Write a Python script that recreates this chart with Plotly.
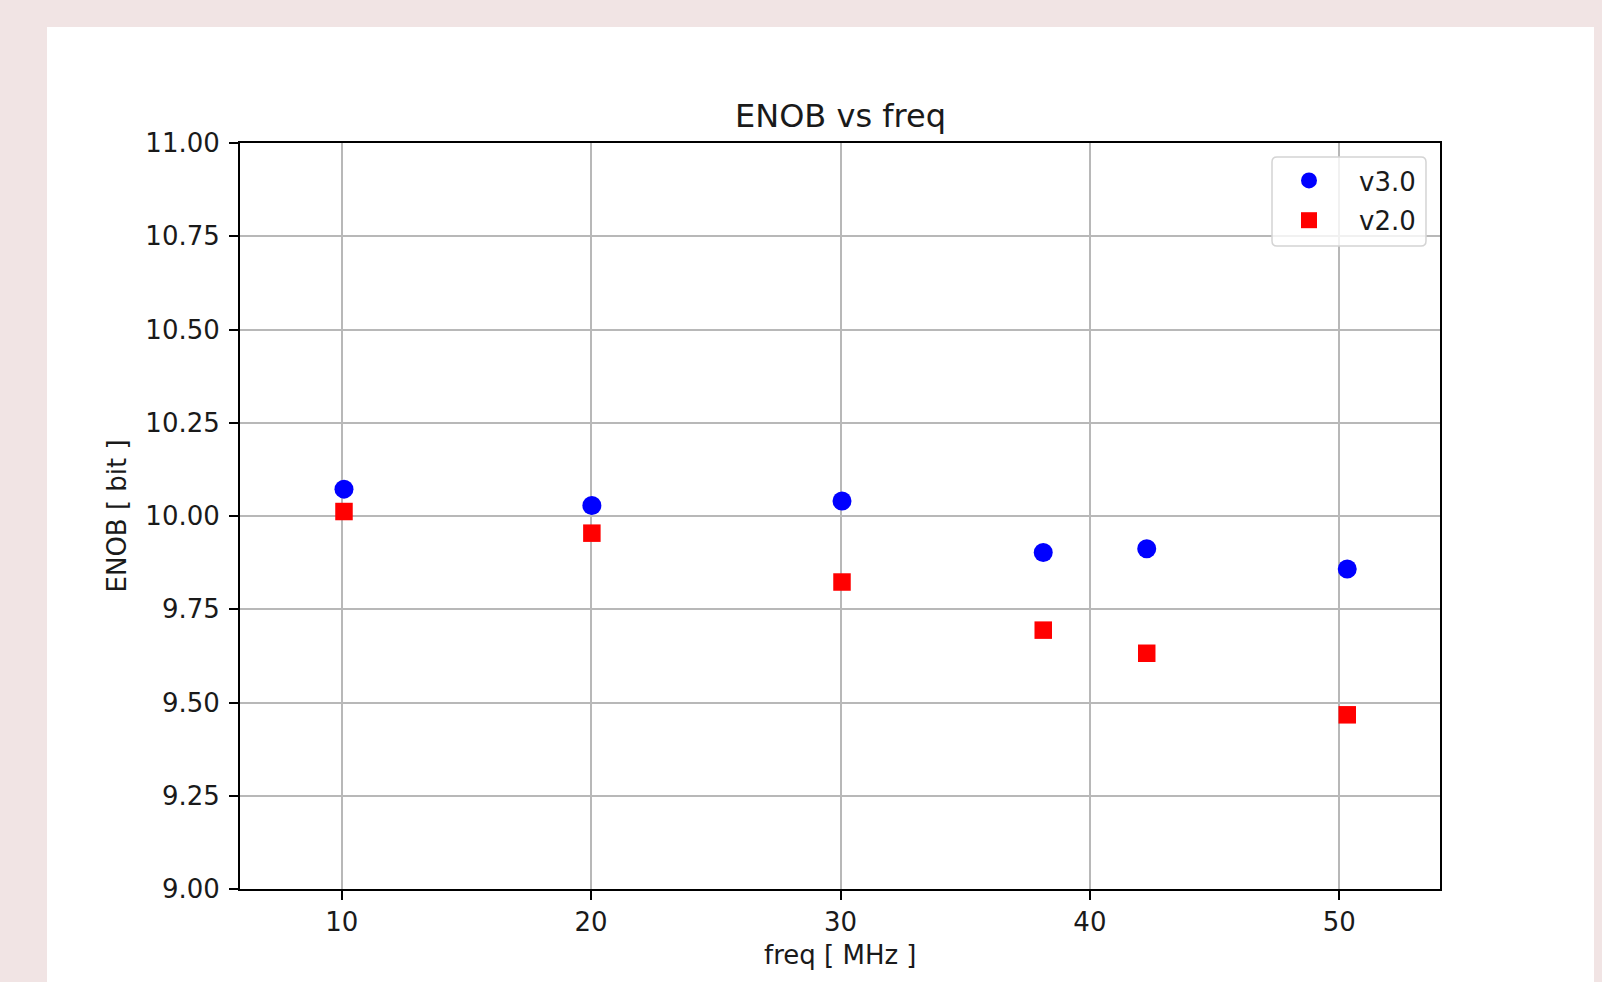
import plotly.graph_objects as go

freq = [10.09, 20.03, 30.06, 38.13, 42.28, 50.32]
enob_v3 = [10.072, 10.028, 10.040, 9.902, 9.912, 9.858]
enob_v2 = [10.012, 9.954, 9.823, 9.694, 9.632, 9.467]
series_names = ["v3.0", "v2.0"]
x_ticks = [10, 20, 30, 40, 50]
y_ticks = [9.00, 9.25, 9.50, 9.75, 10.00, 10.25, 10.50, 10.75, 11.00]

FONT = "DejaVu Sans"
TXT = "#1a1a1a"
W, H = 1602, 982
L, R, T, B = 240, 162, 143, 93
PW, PH = W - L - R, H - T - B

def px_x(px):
    return (px - L) / PW

def px_y(py):
    return (H - B - py) / PH

fig = go.Figure()
fig.add_trace(go.Scatter(x=freq, y=enob_v3, mode="markers", name=series_names[0], legendgroup="g1",
                         marker=dict(symbol="circle", size=19, color="#0000ff", line=dict(width=0))))
fig.add_trace(go.Scatter(x=freq, y=enob_v2, mode="markers", name=series_names[1], legendgroup="g2",
                         marker=dict(symbol="square", size=17.5, color="#ff0000", line=dict(width=0))))

axis_common = dict(
    showgrid=True, gridcolor="#b8b8b8", gridwidth=1.8,
    showline=True, linecolor="black", linewidth=2, mirror=True,
    ticks="outside", ticklen=9, tickwidth=2, tickcolor="black",
    tickfont=dict(family=FONT, size=26, color=TXT),
    zeroline=False,
)

fig.update_xaxes(range=[5.92, 54.04], tickmode="array", tickvals=x_ticks,
                 ticktext=[str(v) for v in x_ticks], **axis_common)
fig.update_yaxes(range=[9.0, 11.0], tickmode="array", tickvals=y_ticks,
                 ticktext=[f"{v:.2f}" for v in y_ticks], ticklabelstandoff=4, **axis_common)

# white panel and legend box
r = 5
lx0, lx1, ly0, ly1 = 1272, 1426, 157, 246
def P(xp, yp):
    return f"{px_x(xp):.5f},{px_y(yp):.5f}"
legend_path = (f"M {P(lx0 + r, ly0)} L {P(lx1 - r, ly0)} Q {P(lx1, ly0)} {P(lx1, ly0 + r)} "
               f"L {P(lx1, ly1 - r)} Q {P(lx1, ly1)} {P(lx1 - r, ly1)} "
               f"L {P(lx0 + r, ly1)} Q {P(lx0, ly1)} {P(lx0, ly1 - r)} "
               f"L {P(lx0, ly0 + r)} Q {P(lx0, ly0)} {P(lx0 + r, ly0)} Z")

fig.update_layout(
    width=W, height=H,
    margin=dict(l=L, r=R, t=T, b=B, autoexpand=False),
    paper_bgcolor="#f1e4e4", plot_bgcolor="white",
    font=dict(family=FONT, size=26, color=TXT),
    shapes=[
        dict(type="rect", xref="paper", yref="paper", layer="below",
             x0=px_x(47), x1=px_x(1594), y0=px_y(H + 20), y1=px_y(27),
             fillcolor="white", line=dict(width=0)),
        dict(type="path", xref="paper", yref="paper", layer="above", path=legend_path,
             fillcolor="rgba(255,255,255,0.8)", line=dict(color="#d4d4d4", width=1.5)),
    ],
    showlegend=True,
    legend=dict(x=px_x(1259), y=px_y(157), xanchor="left", yanchor="top",
                bgcolor="rgba(0,0,0,0)", borderwidth=0, tracegroupgap=3,
                font=dict(family=FONT, size=26, color=TXT), itemwidth=90),
    annotations=[
        dict(text="ENOB vs freq", xref="paper", yref="paper", x=0.5, y=px_y(116),
             xanchor="center", yanchor="middle", showarrow=False,
             font=dict(family=FONT, size=32, color=TXT)),
        dict(text="freq [ MHz ]", xref="paper", yref="paper", x=0.5, y=px_y(955),
             xanchor="center", yanchor="middle", showarrow=False,
             font=dict(family=FONT, size=26, color=TXT)),
        dict(text="ENOB [ bit ]", xref="paper", yref="paper", x=px_x(116.5), y=0.5,
             xanchor="center", yanchor="middle", showarrow=False, textangle=-90,
             font=dict(family=FONT, size=26, color=TXT)),
    ],
)

fig.write_html("out.html", config={"displayModeBar": False},
               post_script="document.body.style.margin='0';document.body.style.overflow='hidden';")
